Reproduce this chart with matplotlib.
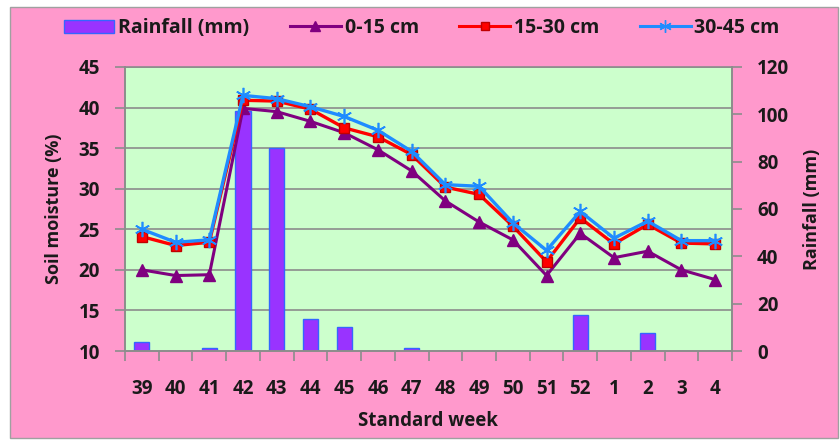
import matplotlib
matplotlib.use("Agg")
import matplotlib.pyplot as plt
from matplotlib.patches import Rectangle, Patch
from matplotlib.lines import Line2D
from matplotlib.transforms import blended_transform_factory

plt.rcParams['font.family'] = ['Open Sans', 'DejaVu Sans']
plt.rcParams['font.weight'] = 'bold'

weeks = ["39", "40", "41", "42", "43", "44", "45", "46", "47", "48", "49",
         "50", "51", "52", "1", "2", "3", "4"]
rainfall = [4.0, 0, 1.4, 101.5, 85.7, 13.6, 10.3, 0, 1.4, 0, 0, 0, 0, 15.3, 0, 7.8, 0, 0]
sm_0_15 = [20.0, 19.3, 19.4, 39.9, 39.5, 38.3, 36.9, 34.8, 32.2, 28.5, 25.9,
           23.7, 19.3, 24.5, 21.5, 22.3, 20.0, 18.8]
sm_15_30 = [24.1, 23.0, 23.4, 40.9, 40.8, 39.8, 37.5, 36.4, 34.2, 30.2, 29.3,
            25.4, 21.0, 26.4, 23.2, 25.6, 23.3, 23.2]
sm_30_45 = [25.0, 23.4, 23.7, 41.5, 41.1, 40.1, 38.9, 37.2, 34.6, 30.5, 30.3,
            25.8, 22.4, 27.2, 23.9, 26.0, 23.6, 23.6]
left_ticks = [10, 15, 20, 25, 30, 35, 40, 45]
right_ticks = [0, 20, 40, 60, 80, 100, 120]

PINK = '#FF99CC'
GREEN = '#CCFFCC'
GRID = '#8C8C8C'
TXT = '#1A1A1A'
BLUE = '#1F8CFF'

fig = plt.figure(figsize=(8.4, 4.4), dpi=100)
fig.patch.set_facecolor('white')
fig.patches.append(Rectangle((10/840, 2/440), 828/840, 431/440, transform=fig.transFigure,
                             facecolor=PINK, edgecolor='#A0A0A0', linewidth=1.0, zorder=-10))

rect = [125/840, 1-351/440, (732-125)/840, (351-67)/440]
axb = fig.add_axes(rect)          # bars, right axis
ax = fig.add_axes(rect, sharex=axb)  # lines, left axis
ax.set_zorder(axb.get_zorder() + 1)
ax.patch.set_visible(False)
axb.set_facecolor(GREEN)

x = list(range(len(weeks)))

# gridlines (left scale) behind bars
trans = blended_transform_factory(axb.transAxes, ax.transData)
axb.hlines(left_ticks[1:], 0, 1, transform=trans, colors=GRID, linewidth=1.2, zorder=0)

axb.bar(x, rainfall, width=0.45, color='#9933FF', edgecolor='#3366FF', linewidth=1.0, zorder=2)
axb.set_ylim(0, 120)
axb.set_yticks(right_ticks)
axb.yaxis.tick_right()
axb.yaxis.set_label_position('right')

ax.plot(x, sm_0_15, color='#800080', linewidth=2.2, marker='^', markersize=8,
        markerfacecolor='#800080', markeredgecolor='#800080', zorder=3)
ax.plot(x, sm_15_30, color='#FF0000', linewidth=2.4, marker='s', markersize=7,
        markerfacecolor='#FF0000', markeredgecolor='#C00000', zorder=4)
ax.plot(x, sm_30_45, color=BLUE, linewidth=2.4, marker=(6, 2, 0), markersize=11,
        markeredgewidth=1.2, markeredgecolor=BLUE, zorder=5)
ax.set_ylim(10, 45)
ax.set_yticks(left_ticks)
ax.set_xlim(-0.5, len(weeks) - 0.5)

ax.set_xticks(x)
ax.set_xticklabels(weeks)
ax.set_xticks([i - 0.5 for i in range(len(weeks) + 1)], minor=True)
ax.tick_params(axis='x', which='major', length=0, pad=20, labelsize=13.5, labelcolor=TXT)
ax.tick_params(axis='x', which='minor', length=7, color=GRID, width=1.2, direction='out')
ax.tick_params(axis='y', length=7, color=GRID, width=1.2, direction='out', pad=11,
               labelsize=13.5, labelcolor=TXT)
axb.tick_params(axis='x', which='both', length=0, labelbottom=False)
axb.tick_params(axis='y', length=7, color=GRID, width=1.2, direction='out', pad=11,
                labelsize=13.5, labelcolor=TXT)

for a in (ax, axb):
    for s in a.spines.values():
        s.set_color(GRID)
        s.set_linewidth(1.2)
ax.spines['top'].set_visible(False)
axb.spines['top'].set_color(GRID)

ax.set_xlabel('Standard week', fontsize=13.5, fontweight='bold', labelpad=9, color=TXT)
ax.set_ylabel('Soil moisture (%)', fontsize=13, fontweight='bold', labelpad=11, color=TXT)
axb.set_ylabel('Rainfall (mm)', fontsize=13, fontweight='bold', labelpad=10, color=TXT)

handles = [Patch(facecolor='#9933FF', edgecolor='#3366FF'),
           Line2D([], [], color='#800080', linewidth=2.2, marker='^', markersize=7),
           Line2D([], [], color='#FF0000', linewidth=2.2, marker='s', markersize=6,
                  markeredgecolor='#C00000'),
           Line2D([], [], color=BLUE, linewidth=2.2, marker=(6, 2, 0), markersize=9)]
labels = ['Rainfall (mm)', '0-15 cm', '15-30 cm', '30-45 cm']
leg = fig.legend(handles, labels, loc='center', bbox_to_anchor=(0.502, 0.936), ncol=4,
                 frameon=False, fontsize=14, handlelength=2.6, columnspacing=2.1,
                 handletextpad=0.2)
for t in leg.get_texts():
    t.set_color(TXT)

fig.savefig('out.png', dpi=100, facecolor=fig.get_facecolor())
